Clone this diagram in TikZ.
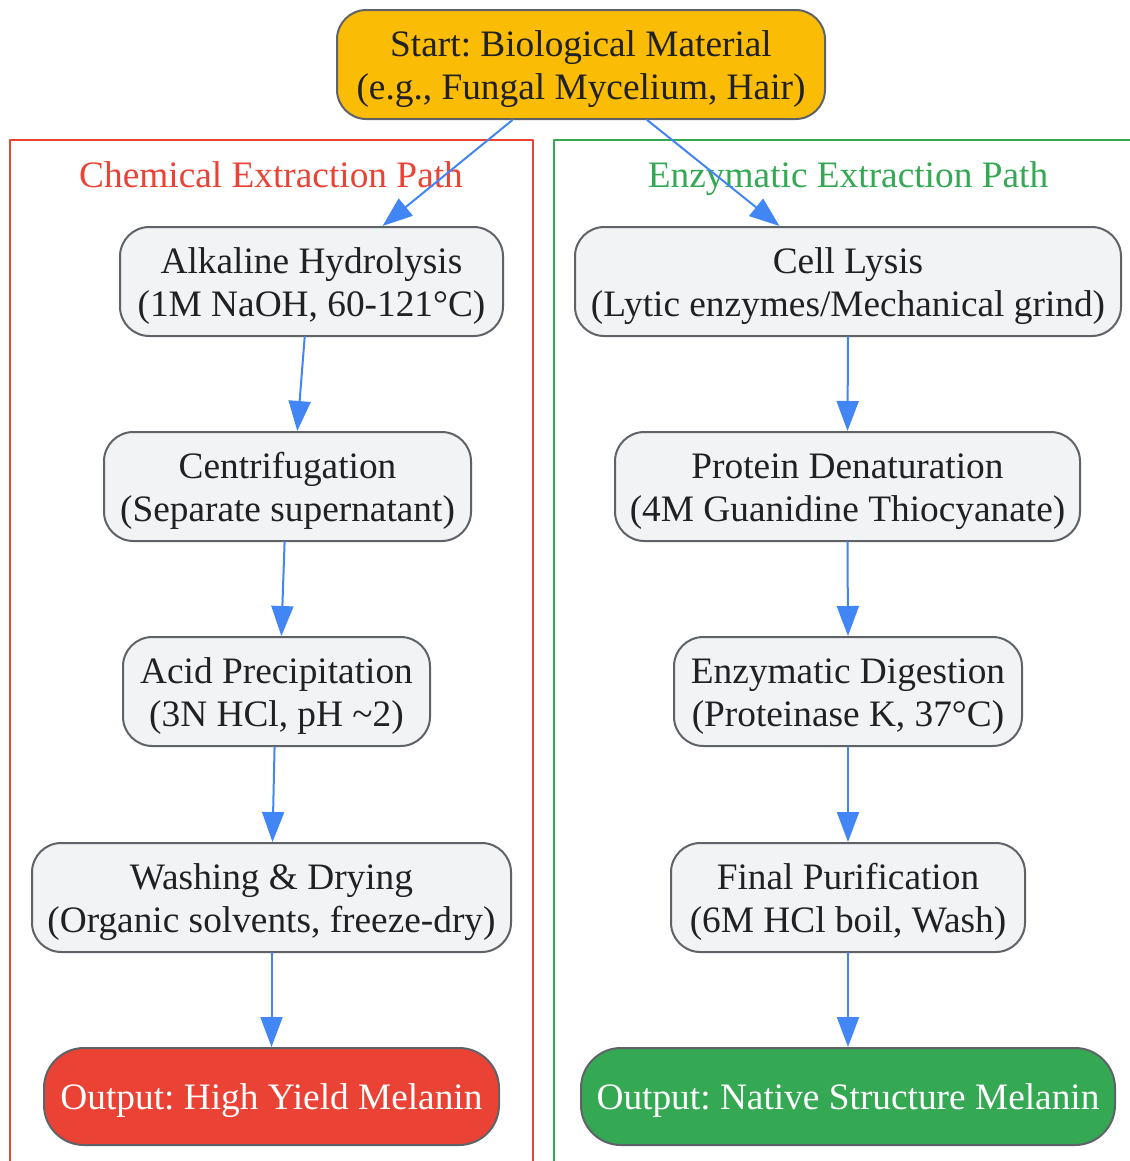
\documentclass[tikz,border=0pt]{standalone}
\usepackage{fontspec}
\setmainfont{Liberation Serif}
\frenchspacing
\usetikzlibrary{arrows.meta}
\definecolor{startfill}{HTML}{FBBC05}
\definecolor{stepfill}{HTML}{F1F3F4}
\definecolor{stepline}{HTML}{5F6368}
\definecolor{chemred}{HTML}{EA4335}
\definecolor{enzgreen}{HTML}{34A853}
\definecolor{flowblue}{HTML}{4285F4}
\definecolor{textdark}{HTML}{202124}
\tikzset{
  stepbox/.style={draw=stepline,line width=1.5pt,fill=stepfill,rounded corners=22pt,
    minimum height=81.75pt,inner sep=0pt,align=center,text=textdark,text height=58.5pt,
    font=\fontsize{28pt}{32.25pt}\selectfont},
  outbox/.style={stepbox,minimum height=72.75pt,rounded corners=30pt,text=white,text height=26pt},
  pathtitle/.style={anchor=base,font=\fontsize{28pt}{32.25pt}\selectfont},
  flow/.style={->,draw=flowblue,line width=1.5pt}
}
\begin{document}
\begin{tikzpicture}[x=0.75pt,y=-0.75pt,line cap=round,line join=round,>={Triangle[length=22.5pt,width=16.5pt]}]
        \useasboundingbox (0,0) rectangle (1130,1161);
        \clip (0,0) rectangle (1130,1161);
        % the two paths
        \draw[chemred,line width=1.5pt] (10,140) rectangle (533,1180);
        \draw[enzgreen,line width=1.5pt] (554,140) rectangle (1150,1180);
        \node[pathtitle,text=chemred] (chemtitle) at (271,187) {Chemical Extraction Path};
        \node[pathtitle,text=enzgreen] (enztitle) at (848,187) {Enzymatic Extraction Path};
        \node[stepbox,fill=startfill,minimum width=366pt] (start) at (581,64.5) {Start: Biological Material\\(e.g., Fungal Mycelium, Hair)};
        \node[stepbox,minimum width=287.25pt] (alk) at (311.5,281.5) {Alkaline Hydrolysis\\(1M NaOH, 60-121°C)};
        \node[stepbox,minimum width=275.25pt] (cent) at (287.5,486.5) {Centrifugation\\(Separate supernatant)};
        \node[stepbox,minimum width=230.25pt] (acid) at (276.5,691.5) {Acid Precipitation\\(3N HCl, pH \textasciitilde2)};
        \node[stepbox,minimum width=359.25pt] (wash) at (271.5,897.5) {Washing \& Drying\\(Organic solvents, freeze-dry)};
        \node[outbox,fill=chemred,minimum width=341.25pt] (outchem) at (271.5,1096.5) {Output: High Yield Melanin};
        \node[stepbox,minimum width=409.5pt] (lysis) at (848,281.5) {Cell Lysis\\(Lytic enzymes/Mechanical grind)};
        \node[stepbox,minimum width=348.75pt] (denat) at (847.5,486.5) {Protein Denaturation\\(4M Guanidine Thiocyanate)};
        \node[stepbox,minimum width=261pt] (digest) at (848,691.5) {Enzymatic Digestion\\(Proteinase K, 37°C)};
        \node[stepbox,minimum width=265.5pt] (purify) at (848,897.5) {Final Purification\\(6M HCl boil, Wash)};
        \node[outbox,fill=enzgreen,minimum width=400.5pt] (outenz) at (848,1096.5) {Output: Native Structure Melanin};
        \draw[flow] (start.219) -- (alk.38.5);
        \draw[flow] (start.320.5) -- (lysis.141.3);
        \draw[flow] (alk.263.2) -- (cent.80.1);
        \draw[flow] (cent.267.4) -- (acid.85.3);
        \draw[flow] (acid.268.4) -- (wash.89.5);
        \draw[flow] (wash.south) -- (outchem.north);
        \foreach \a/\b in {lysis/denat,denat/digest,digest/purify,purify/outenz}
        \draw[flow] (\a.south) -- (\b.north);
      \end{tikzpicture}
\end{document}
